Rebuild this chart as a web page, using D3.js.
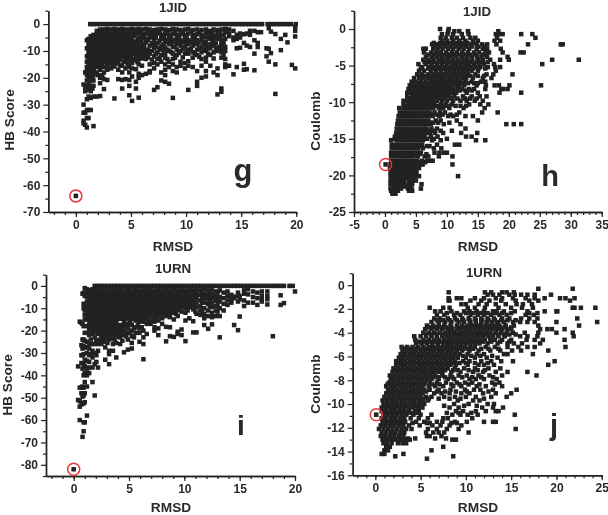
<!DOCTYPE html>
<html><head><meta charset="utf-8">
<script src="https://cdn.jsdelivr.net/npm/d3@7"></script>
<style>html,body{margin:0;background:#fff}svg{display:block}text{font-family:"Liberation Sans",Arial,sans-serif;font-weight:bold;fill:#2a2a2a}</style>
</head><body><svg id="c" width="608" height="515"></svg>
<script>
// Panel g: native structure [rmsd, [hb scores]]
const gNative = [0, -64];
const gZeroX = [1.3,1.6,1.9,2.2,2.5,2.8,3.1,3.4,3.7,4,4.3,4.6,4.9,5.2,5.5,5.8,6.1,6.4,6.7,7,7.3,7.6,7.9,8.2,8.5,8.8,9.1,9.4,9.7,10,10.3,10.6,10.9,11.2,11.5,11.8,12.1,12.4,12.7,13,13.3,13.6,13.9,14.2,14.5,14.8,15.1,15.4,15.7,16,16.3,16.6,16.9,17.4,17.7,18,18.3,18.6,18.9,19.2,19.5,19.95];
const gCols = [
[0.7,[-22.5,-30,-33,-36,-37]],[0.85,[-18,-24,-25,-33,-37.5]],
[1,[-6,-9,-12,-14,-16,-17.5,-19,-21,-23,-24.5,-28,-32,-35,-38.5]],
[1.15,[-5.5,-7,-8.5,-10,-11.5,-13,-15,-17,-18.5,-20,-22,-24,-27,-32,-35]],
[1.35,[-4.5,-6,-7.5,-9,-10.5,-12,-13.5,-15,-16.5,-18,-19.5,-21,-23,-25,-27.5,-32]],
[1.6,[-4,-5.5,-7,-8.5,-10,-11.5,-13,-14.5,-16,-17.5,-19,-21,-23,-27,-38]],
[1.9,[-2.5,-4,-5.5,-7,-8.5,-10,-11.5,-13,-14.5,-16,-18,-27]],
[2.2,[-2,-3.5,-5,-6.5,-8,-9.5,-11,-12.5,-14,-15.5,-17,-20,-22,-26.8]],
[2.55,[-2,-3.5,-5,-6.5,-8,-9.5,-11,-12.5,-14,-16,-18,-20.5,-24.2]],
[2.85,[-1.8,-3.3,-4.8,-6.3,-7.8,-9.3,-10.8,-12.3,-13.8,-15.5,-17,-20.8]],
[3.2,[-2,-3.5,-5,-6.5,-8,-9.5,-11,-12.5,-14,-16.5]],
[3.5,[-1.8,-3.3,-4.8,-6.3,-7.8,-9.3,-10.8,-12.3,-13.8,-15.8,-27.7]],
[3.85,[-2,-3.5,-5,-6.5,-8,-9.5,-11,-12.5,-14,-17,-20.5]],
[4.2,[-1.8,-3.3,-4.8,-6.3,-7.8,-9.3,-10.8,-12.3,-15.5,-18,-20.8,-24]],
[4.5,[-2,-3.5,-5,-6.5,-8,-9.5,-11,-12.5,-14,-16.5,-20.5]],
[4.85,[-2,-3.5,-5.5,-7,-8.5,-10,-11.5,-13.5,-16,-18,-20.8,-23,-26.5]],
[5.1,[-1.8,-3.5,-5,-6.5,-8,-9.5,-11,-14.5,-16.5,-19.5,-28.6]],
[5.45,[-2,-3.5,-6.5,-9,-10.5,-12,-13.5,-16.8,-21.5,-24]],
[5.7,[-1.8,-3.3,-5,-7,-10,-11.5,-13,-15,-18.5,-20,-27.4]],
[6,[-2,-3.8,-5.2,-8,-9.8,-11.2,-12.8,-15.5,-19]],
[6.35,[-1.8,-3.5,-5.5,-6.8,-10,-11.5,-13,-18.5]],
[6.7,[-2,-3.5,-5,-8,-11,-15,-17.5,-18]],
[7.1,[-2.2,-4,-5.8,-7.5,-9,-12,-14.5,-16.5,-24.5]],
[7.4,[-2,-3.5,-7,-10.5,-13,-15,-23.5]],
[7.75,[-1.8,-4,-5.5,-8,-9.5,-11.5,-14,-18,-21]],
[8.1,[-2,-3.5,-6,-9,-11,-12.5,-15,-17,-19,-21.5]],
[8.45,[-2.2,-4,-5.5,-7.5,-10,-14,-16,-22.2]],
[8.8,[-1.8,-3.5,-6,-8.5,-11,-13,-15,-17.5,-27.5]],
[9.15,[-2,-4,-5.5,-7,-9.5,-11.5,-16,-18]],
[9.5,[-2.2,-3.8,-6,-8,-10,-14,-15.5]],
[9.9,[-2,-4,-5.5,-8.5,-11,-14.5,-16.5]],
[10.2,[-1.8,-3.5,-6,-7.5,-9.5,-11,-13.8,-15.5,-24.5]],
[10.6,[-2.2,-4,-5.5,-8,-10.5,-12.5,-16]],
[11,[-2,-3.8,-6,-7.5,-9.5,-11.5,-17.5,-21.5,-23]],
[11.4,[-2.2,-4,-5.5,-8.5,-10.5,-13,-15.5,-20]],
[11.8,[-2,-3.5,-6.5,-8,-10,-12.5,-14,-17.5,-19.5]],
[12.2,[-2.5,-4,-5.5,-7.5,-9,-11.5,-15.5]],
[12.5,[-2,-4.5,-6,-8,-10.5,-12.8,-18]],
[12.85,[-2.2,-3.5,-5.5,-9,-10,-16.5,-19,-26.2]],
[13.2,[-2,-4,-6,-7.5,-9,-10.5,-12.5,-24,-25.2]],
[13.55,[-1.8,-3,-5.5,-8.5,-10,-13,-15,-16]],
[13.9,[-2,-3.5,-4.5,-15.5]],
[14.3,[-2.5,-5,-6,-18.7]],[14.6,[-4,-5.5,-9,-16]],[14.9,[-3.5,-5,-8.8]],
[15.25,[-3.8,-7,-14.8,-17]],[15.5,[-3.5,-8,-16.8]],[15.8,[-2.5,-4,-8.5]],
[16.2,[-2.5,-6,-11,-17.2]],[16.5,[-3,-7,-8.5]],[16.8,[-3]],
[17.3,[-9,-12]],[17.5,[-1.5,-9.2,-14]],[17.7,[-2.8,-10.8]],[18.1,[-3.7,-15,-26]],
[18.6,[-5.5,-9.7]],[19,[-4]],[19.2,[-6.8]],[19.6,[-15.2]],[19.9,[-1,-2.5,-4.6,-16.5]]
];
const gExtra = [
[1.5,[-4.8,-8,-11,-14,-17,-20,-24]],[2,[-3.2,-6.2,-9,-12,-15,-19]],[2.4,[-2.8,-5.8,-8.8,-11.8,-14.8,-19]],[2.7,[-4.2,-7.2,-10.2,-13.2,-16]],
[3,[-2.7,-5.7,-8.7,-11.7,-14.7]],[3.35,[-4.1,-7.1,-10.1,-13.1,-15.2]],[3.7,[-2.6,-5.6,-8.6,-11.6,-14.6]],[4,[-4.2,-7.2,-10.2,-13.2,-15.4]],
[4.35,[-2.7,-5.7,-8.7,-11.7,-14]],[4.7,[-4.3,-7.3,-10.3,-12.8,-15]],[5,[-2.8,-6,-9,-12.2,-13.8]],[5.3,[-4.3,-7.5,-10.4,-13]],
[5.6,[-2.8,-5.8,-8.3,-12.5,-14.2]],[5.9,[-3,-6.5,-9,-10.6,-12]],[6.2,[-4.6,-7.3,-9,-12.2]],[6.55,[-2.8,-6,-9.5,-12.4]],
[6.9,[-3,-4.5,-7,-10,-13.2]],[7.25,[-3,-5,-8.5,-11]],[7.6,[-2.8,-6.2,-9,-12.5]],[8,[-4.8,-7.5,-10.4]],[8.3,[-3,-6.6,-9.5,-13]],
[8.65,[-4.8,-7,-10.4]],[9,[-2.8,-6.5,-8.4,-12.5]],[9.35,[-4.8,-7.4,-10.8]],[9.7,[-3,-6.8,-9.2,-12.4]],[10.05,[-4.6,-7,-10.2]],
[10.45,[-2.8,-6.6,-9.2]],[10.8,[-4.8,-7,-11]],[11.2,[-3,-6.8,-9,-12.2]],[11.6,[-4.8,-7,-9.4]],[12,[-3,-5,-9,-11]],[12.4,[-3.2,-6.6]],[12.7,[-4.6,-7.2,-9.2]],[13.05,[-3,-5,-8.5]],[13.4,[-4.2,-7,-9.2,-11.5]]
];

// Panel h: native structure [coulomb, [rmsd values]]
const hNative = [0.1, -18.5];
const hRows = [
[-22.5,[1.2,1.7]],[-22.1,[1,1.5,2.1,3.9,4.4]],
[-21.8,[0.9,1.4,2,2.6,3.7,4.3,5.8]],[-21.2,[0.9,1.4,2,2.5,3.1,3.8,4.4,5.9]],
[-20.7,[0.9,1.4,1.9,2.5,3.1,3.9,4.5,5]],[-20.1,[0.9,1.4,2,2.6,3.2,3.8,4.3,5,5.5,11.8]],
[-19.6,[0.9,1.5,2.1,2.7,3.3,3.9,4.5,5.1]],[-19,[0.8,1.4,2,2.6,3.2,3.8,4.4,5,5.5]],
[-18.5,[0.9,1.5,2.1,2.7,3.3,3.9,4.5,5.2,5.8,6.1,10.9]],[-18,[1,1.6,2.2,2.8,3.4,4,4.6,5.2,6,6.8,7.3,7.7]],
[-17.4,[1,1.6,2.2,2.8,3.4,4,4.6,5.3,6.4,7,8.7,10.9]],[-16.9,[1,1.6,2.2,2.8,3.4,4,4.6,5.2,5.8,8,8.8,9.5,10]],
[-16.3,[1.1,1.7,2.3,2.9,3.5,4.1,4.7,5.3,6.1,7.9,9.1]],[-15.8,[1.1,1.8,2.4,3,3.6,4.2,4.8,5.4,6,8.4,11.3,12]],
[-15.2,[1,1.9,2.5,3.1,3.7,4.3,4.9,5.5,6.1,7.6,9,14.7,16.2]],[-14.7,[1.6,2.2,2.8,3.4,4,4.6,5.2,5.8,6.4,7.4,8.5,13.1,14]],
[-14.2,[1.8,2.4,3,3.6,4.2,4.8,5.4,6,6.6,7.3,8.1,9.4,12.3,14.9]],[-13.6,[1.9,2.5,3.1,3.7,4.3,4.9,5.5,6.1,6.7,7.5,8.4,13]],
[-13,[2,2.6,3.2,3.8,4.4,5,5.6,6.2,6.8,7.4,9.5,12.2,19.6,20.8,22]],[-12.5,[2.1,2.7,3.3,3.9,4.5,5.1,5.7,6.3,7,8.2,9,11.6,15]],
[-11.9,[2.2,2.8,3.4,4,4.6,5.2,5.8,6.4,7,7.7,8.8,10.2,11,13,14.2]],[-11.4,[2.4,3,3.6,4.2,4.8,5.4,6,6.6,7.2,8,8.9,9.7,12,15.7,18.2]],
[-10.8,[2.3,3,3.6,4.2,4.8,5.4,6,6.6,7.2,7.8,8.7,9.4,10.4,12.7,16.1]],[-10.3,[3,3.8,4.4,5,5.6,6.2,6.8,7.4,8,9,9.8,10.8,13.6,15.4,16.7]],
[-9.8,[3,3.6,4.2,4.8,5.4,6,6.6,7.2,7.8,8.4,9.2,10,11,12.2,13.2,14.5,15.8]],[-9.2,[3.6,4.4,5,5.6,6.2,6.8,7.4,8,8.6,9.2,9.8,10.4,11.2,12.6,14,15.3,16.4]],
[-8.7,[3.6,4.2,4.8,5.4,6,6.6,7.2,7.8,8.4,9,9.6,10.2,10.8,11.5,13.2,15,18.5,22]],[-8.2,[3.8,4.4,5,5.6,6.2,6.8,7.4,8,8.6,9.2,9.8,10.4,11,11.8,12.4,13.6,14.4,16.2,18.8,19.1,19.8]],
[-7.7,[4,4.7,5.3,5.9,6.5,7.1,7.7,8.3,8.9,9.5,10.1,10.7,11.4,12,12.8,14.8,16.3,17.7,18.4,20.1,25.2]],[-7.2,[4.3,5,5.8,6.6,7.4,8,8.6,9.2,9.8,10.4,11,11.6,12.2,13,14,15.5,16.2]],
[-6.7,[4.7,5.5,6.2,6.9,7.6,8.3,9,9.6,10.3,11,11.7,12.4,13.1,14.2,15.8,17.2]],[-6.2,[5.2,6,7,7.8,8.5,9.2,9.9,10.6,11.3,12,12.7,13.4,14.6,16.4,17.5,20.6]],
[-5.7,[5.5,6.3,7.4,8.2,9,9.8,10.5,11.2,11.9,12.6,13.3,14,15,17.9]],[-5.2,[6,7.2,8,8.8,9.6,10.3,11,11.7,12.4,13.1,13.8,14.6,15.4,16.6,17.8,18.6]],
[-4.8,[5.4,6.6,7.5,8.4,9.2,10,10.8,11.5,12.2,12.9,13.6,14.4,15.2,16,17.6,25.4]],[-4.2,[6.2,7,7.8,8.7,9.4,10.2,11,11.8,12.6,13.3,14.1,15,15.8,17,18.6,20,27,31.3]],
[-3.8,[6.6,7.6,8.4,9.2,10,10.7,11.5,12.4,13.2,14,14.9,15.6,16.5,19.8]],[-3.2,[6.3,7.5,8.3,9,9.9,10.8,11.6,12.5,13.4,14.4,15.2,16.2,16.8,19,21.9,22.4]],
[-2.7,[6.2,6.6,7.8,8.5,9.3,10.2,11,11.9,12.7,13.6,14.8,15.8,16.5,18.7]],[-2.1,[7.6,8.4,9.4,10.3,11.1,11.8,12.8,13.8,14.8,15.7,16.5,18,28.4,28.7,23.1]],
[-1.6,[9.2,10,11,12,13,14.2,15,17.7,18.6]],[-1.2,[9,9.8,10.8,11.6,12.6,13.8,14.6,18.1,24.3]],
[-0.7,[9.2,10.1,11,12.4,13.5,17.9,18.4,19,23.8,22]],[-0.3,[10.2,11.2,12,13.4,18.3]],[0,[8.9,10.3]]
];
const hExtra = [
[-21.5,[1.7,2.3,2.9,3.4,4]],[-20.4,[1.2,1.7,2.3,2.9,3.5,4.1,4.7]],[-19.3,[1.2,1.8,2.4,3,3.6,4.2,4.8]],[-18.2,[1.3,1.9,2.5,3.1,3.7,4.3,4.9,5.5,6.5]],
[-17.1,[1.3,1.9,2.5,3.1,3.7,4.3,4.9,5.6,6.7]],[-16,[1.4,2,2.6,3.2,3.8,4.4,5,5.7,6.8,7.2]],[-15,[1.6,2.2,2.8,3.4,4,4.6,5.2,5.8,6.8,7.9,10]],
[-13.9,[2.2,2.8,3.4,4,4.6,5.2,5.8,6.4,7.1,7.9,9,10.8]],[-12.8,[2.4,3,3.6,4.2,4.8,5.4,6,6.6,7.3,7.8,8.6,10.4]],[-11.7,[2.6,3.2,3.8,4.4,5,5.6,6.2,6.8,7.4,8.4,9.3,10.6,11.6]],
[-10.5,[3.3,4.1,4.7,5.3,5.9,6.5,7.1,7.7,8.4,9.5,10.2,11.4,12.2,13.1]],[-9.5,[3.9,4.6,5.2,5.8,6.4,7,7.6,8.2,8.9,9.5,10.7,11.7,12.9,13.7,14.8]],[-8.4,[4.1,4.7,5.3,5.9,6.5,7.1,7.7,8.3,8.9,9.5,10.1,10.7,11.3,12.1,13,14]],
[-7.4,[4.5,5.2,6,6.8,7.6,8.4,9,9.6,10.2,10.8,11.4,12,12.6,13.4,14.4,15]],[-6.4,[5.6,6.5,7.3,8,8.7,9.4,10.1,10.8,11.5,12.2,12.9,13.8,15,16]],[-5.4,[5.8,7,7.7,8.5,9.3,10,10.7,11.4,12.1,12.8,13.5,14.2,15.1,16.2]],
[-4.5,[6.4,7.2,8,8.9,9.7,10.5,11.2,12,12.7,13.4,14.1,14.9,15.6,16.6]],[-3.5,[7,7.9,8.8,9.6,10.4,11.2,12,12.8,13.7,14.6,15.8,16.4]],[-2.4,[8,8.9,9.7,10.6,11.5,12.3,13.1,14,15.1,16.1]],[-1.9,[7.9,8.9,9.9,10.7,11.4,12.4,13.3,14.3]]
];

// Panel i: native structure [rmsd, [hb scores]]
const iNative = [0, -82];
const iZeroX = [1.9,2.2,2.5,2.8,3.1,3.4,3.7,4,4.3,4.6,4.9,5.2,5.5,5.8,6.1,6.4,6.7,7,7.3,7.6,7.9,8.2,8.5,8.8,9.1,9.4,9.7,10,10.3,10.6,10.9,11.2,11.5,11.8,12.1,12.4,12.7,13,13.3,13.6,13.9,14.2,14.5,14.8,15.1,15.4,15.7,16,16.3,16.6,16.9,17.2,17.5,17.8,18.1,18.4,18.7,19,19.5,19.8];
const iCols = [
[0.4,[-36,-51]],[0.55,[-16,-45.5,-51.5,-54,-60]],[0.7,[-16.5,-26.5,-31,-34.5,-45.5,-48,-53]],
[0.8,[-3.5,-17,-24,-28,-31,-37,-45,-49.5,-52.5,-67.5]],[0.9,[-3.2,-8,-10,-18,-24,-27,-30.5,-35,-40,-45.5,-49,-52.5,-65,-61]],
[1,[-1,-3,-4.5,-9,-11,-13,-15,-21,-24.5,-27.5,-33,-36,-39,-43,-48,-52,-61]],[1.2,[-1.5,-3.5,-5,-7,-9,-11,-13,-15,-18,-21,-25,-27.5,-30,-33.5,-37,-40,-45,-58]],
[1.4,[-2,-3.5,-5.5,-7.5,-9.5,-11.5,-13.5,-15.5,-17.5,-19.5,-22,-26,-28,-31,-34,-36.5,-39]],[1.7,[-1.5,-3.5,-5.5,-7.5,-9.5,-11.5,-13.5,-15.5,-17.5,-19.5,-21.5,-26,-29,-32,-36.5,-43]],
[1.9,[-2,-4,-6,-8,-10,-12,-14,-16,-18,-20,-23,-26,-30,-35,-49]],[2.2,[-1.5,-3.5,-5.5,-7.5,-9.5,-11.5,-13.5,-15.5,-17.5,-19.5,-21.5,-26,-29,-36.5]],
[2.5,[-2,-4,-6,-8,-10,-12,-14,-16,-18,-20,-22,-24,-26]],[2.85,[-1.5,-3.5,-5.5,-7.5,-9.5,-11.5,-13.5,-15.5,-17.5,-19.5,-21.5,-23.5,-27.5,-33]],
[3.2,[-2,-4,-6,-8,-10,-12,-14,-16,-18,-20,-22,-24,-29,-30.5,-35]],[3.55,[-1.5,-3.5,-5.5,-7.5,-9.5,-11.5,-13.5,-15.5,-17.5,-19.5,-21.5,-23.5,-26,-29]],
[3.85,[-2,-4,-6,-8,-10,-12,-14,-16,-18,-20,-22,-25.5,-32]],[4.2,[-1.5,-3.5,-5.5,-7.5,-9.5,-11.5,-13.5,-17.5,-19.5,-21.5,-23,-26]],
[4.55,[-2,-4,-6,-8,-10,-12,-14,-16.5,-18,-20,-22,-29.7]],[4.9,[-1.5,-3.5,-5.5,-7.5,-9.5,-11.5,-13.5,-17,-19,-21,-24,-28.5]],
[5.25,[-2,-4,-6,-8,-10,-12,-14,-17.5,-20,-22.5,-25.5,-28]],[5.6,[-1.5,-3.5,-5.5,-7.5,-9.5,-11.5,-13.5,-15.5,-18.5,-21]],
[5.95,[-2,-4,-6,-8,-10,-12,-14,-16,-19,-21,-25]],[6.3,[-1.5,-3.5,-5.5,-7.5,-9.5,-11.5,-13.5,-16,-20,-23,-26,-32.8]],
[6.6,[-2,-4,-6,-8,-10,-12,-14,-17,-21.5]],[6.95,[-1.5,-3.5,-5.5,-7.5,-9.5,-11.5,-13.5,-15.5,-17]],
[7.3,[-2,-4,-6,-8,-10,-12,-14,-16,-18.5,-20]],[7.65,[-1.5,-3.5,-5.5,-7.5,-9.5,-11.5,-13.5,-15.5,-19,-22]],
[8,[-2,-4,-6,-8,-10,-12,-14.5,-17]],[8.35,[-1.5,-3.5,-5.5,-7.5,-9.5,-11.5,-13.5,-18.3,-24.8]],
[8.7,[-2,-4,-6,-8,-10,-12,-14,-18.5,-22.5]],[9.05,[-1.5,-3.5,-5.5,-7.5,-9.5,-12,-15,-22.8]],
[9.4,[-2,-4,-6,-8,-10,-13.5,-20.5,-21.5]],[9.75,[-1.5,-3.5,-5.5,-7.5,-9.5,-11.5,-19.5,-22]],
[10.1,[-2,-4,-6,-8,-10,-12,-15.5,-24.7]],[10.45,[-1.5,-3.5,-5.5,-7.5,-9.5,-14.5]],
[10.8,[-2,-4,-6,-8.5,-10.5,-15.8,-20.8]],[11.1,[-1.5,-3.5,-5.5,-7.5,-9.5,-12.5,-20.8]],
[11.45,[-2,-4,-6.5,-9,-11,-13]],[11.8,[-1.5,-3.5,-5.5,-7.5,-10,-12.5,-14.5,-17.5]],
[12.15,[-2,-4,-6,-8,-11,-13.5,-19.2]],[12.5,[-1.5,-3.5,-5.5,-7.5,-9.5,-12,-14,-17.2]],
[12.85,[-2.5,-4.5,-6.5,-9,-11,-13.5]],[13.2,[-2,-5,-7,-10,-13.5,-23]],
[13.55,[-3,-5.5,-8,-11]],[13.9,[-2.5,-4.5,-6.5,-8.5]],[14.25,[-4,-6,-7.5]],[14.5,[-4.8,-17.5,-5.5]],
[14.85,[-3,-4.5,-19.8,-7]],[15,[-4.5,-13.7,-6]],[15.4,[-2,-3.5,-6.5,-9]],[15.75,[-1.5,-3.8,-7.5]],
[16.2,[-2.5,-5,-7.5]],[16.6,[-3,-5.5,-8.5]],[17,[-2.5,-4.5,-6,-7]],[17.5,[-2.5,-4.5,-6,-8.3]],
[18,[-22.5]],[18.7,[-8.5,-4.2]],[19,[-7.7]],[20,[-2.5]]
];
const iExtra = [
[1.55,[-2.7,-4.5,-6.5,-8.5,-10.5,-12.5,-14.5,-16.5,-18.5,-20.5,-24,-30.5]],[2.05,[-2.8,-4.8,-6.8,-8.8,-10.8,-12.8,-14.8,-16.8,-18.8,-20.8,-24.5,-31,-34]],
[2.35,[-2.7,-4.7,-6.7,-8.7,-10.7,-12.7,-14.7,-16.7,-18.7,-20.7,-24]],[2.7,[-2.8,-4.8,-6.8,-8.8,-10.8,-12.8,-14.8,-16.8,-18.8,-20.8,-22.8,-25]],
[3.05,[-2.7,-4.7,-6.7,-8.7,-10.7,-12.7,-14.7,-16.7,-18.7,-20.7,-22.7,-25.5]],[3.4,[-2.8,-4.8,-6.8,-8.8,-10.8,-12.8,-14.8,-16.8,-18.8,-20.8,-22.8]],
[3.7,[-2.7,-4.7,-6.7,-8.7,-10.7,-12.7,-14.7,-16.7,-18.7,-20.7,-24]],[4.05,[-2.8,-4.8,-6.8,-8.8,-10.8,-12.8,-14.8,-18.8,-20.8,-22.8]],
[4.4,[-2.7,-4.7,-6.7,-8.7,-10.7,-12.7,-14.7,-18.7,-20.7,-24.5]],[4.75,[-2.8,-4.8,-6.8,-8.8,-10.8,-12.8,-14.8,-18,-22.5]],
[5.1,[-2.7,-4.7,-6.7,-8.7,-10.7,-12.7,-14.7,-16.5,-21]],[5.45,[-2.8,-4.8,-6.8,-8.8,-10.8,-12.8,-14.8,-19,-23]],
[5.8,[-2.7,-4.7,-6.7,-8.7,-10.7,-12.7,-14.7,-17.5]],[6.15,[-2.8,-4.8,-6.8,-8.8,-10.8,-12.8,-15,-18.5]],
[6.45,[-2.7,-4.7,-6.7,-8.7,-10.7,-12.7,-15]],[6.8,[-2.8,-4.8,-6.8,-8.8,-10.8,-12.8,-15.8]],
[7.15,[-2.7,-4.7,-6.7,-8.7,-10.7,-12.7,-15.3]],[7.5,[-2.8,-4.8,-6.8,-8.8,-10.8,-12.8,-14.8]],
[7.85,[-2.7,-4.7,-6.7,-8.7,-10.7,-12.7]],[8.2,[-2.8,-4.8,-6.8,-8.8,-10.8,-13]],[8.55,[-2.7,-4.7,-6.7,-8.7,-10.7,-13]],[8.9,[-2.8,-4.8,-6.8,-8.8,-10.8]],
[9.25,[-2.7,-4.7,-6.7,-8.7,-10.7,-12.5]],[9.6,[-2.8,-4.8,-6.8,-8.8,-10.8]],[9.95,[-2.7,-4.7,-6.7,-9]],[10.3,[-2.8,-4.8,-6.8,-8.8,-11]],[10.65,[-2.7,-4.7,-7,-9.2]],[11,[-2.8,-4.8,-6.8,-11.5]],[11.6,[-2.8,-5,-7.2,-11]],[12.3,[-2.8,-4.8,-7,-9.2]],[13,[-3,-5.5,-8,-11.5]]
];

// Panel j: native structure [coulomb, [rmsd values]]
const jNative = [0.1, -10.9];
const jRows = [
[-14.6,[5.7]],[-14.4,[2.2,8.6]],[-14.2,[0.7,1,3.1]],[-13.9,[1,1.4,6.2]],[-13.6,[1.2,1.6,7.5]],
[-13.3,[0.9,1.3,1.8,2.5,3,3.4]],[-13,[0.8,1.3,1.8,2.3,2.8,3.3,3.8,8.5,8.9]],[-12.7,[0.6,1.1,1.6,2.1,2.6,3.1,5.7,6,7.3]],
[-12.4,[0.7,1.2,1.7,2.2,2.7,3.2,5.6,6.4,7,7.6,10.3]],[-12.1,[0.4,0.9,1.4,1.9,2.4,2.9,3.4,4,5.8,6.8,7.9,9.2,15.5]],
[-11.8,[0.6,1.1,1.6,2.1,2.6,3.1,3.7,4.9,6.3,7.2,8.2,9.5]],[-11.5,[0.8,1.3,1.8,2.3,2.8,3.3,4.5,5.4,6.8,7.4,8.8,10.1,12,13,13.3]],
[-11.2,[0.7,1.2,1.7,2.2,2.7,3.2,3.9,4.8,5.8,7.5,8,10.7]],[-10.9,[0.9,1.4,1.9,2.4,2.9,3.4,4.2,5,6.2,8.5,9.4,10.2,11.3,15.4]],
[-10.6,[0.7,1.2,1.7,2.2,2.7,3.2,3.7,4.4,4.8,8.9,9.7,11.1,12.2,13.3,13.6]],[-10.3,[0.7,1.2,1.7,2.2,2.7,3.2,3.7,4.2,4.7,5.2,8.2,9.2,11.8,13,14.1]],
[-10,[0.9,1.4,1.9,2.4,2.9,3.4,3.9,4.4,4.9,5.4,8.7,10.3,12.4,13.1]],[-9.7,[0.8,1.3,1.8,2.3,2.8,3.3,3.8,4.3,4.8,5.3,5.8,9.1,10.8,11.5]],
[-9.4,[1,1.5,2,2.5,3,3.5,4,4.5,5,5.6,6.2,7.6,8.8,10,11.1,12.8,14.5]],[-9.1,[1.2,1.7,2.2,2.7,3.2,3.7,4.2,4.7,5.2,6.5,7.3,8.2,9.5,10.4,11.9,13.3,15]],
[-8.8,[1.4,1.9,2.4,2.9,3.4,3.9,4.4,4.9,5.4,6,7,8.3,9.9,10.9,11.6,13,15.6]],[-8.5,[1.2,1.7,2.2,2.7,3.2,3.7,4.2,4.7,5.2,5.9,6.6,7.5,8.6,9.5,11.2,12.2,14]],
[-8.2,[1.5,2,2.5,3,3.5,4,4.5,5,5.5,6,6.8,7.8,9,9.9,10.7,12.9,13.7]],[-7.9,[1.7,2.2,2.7,3.2,3.7,4.2,4.7,5.2,5.7,6.2,7,8,8.7,10.4,11.1,12,13.4]],
[-7.6,[1.6,2.1,2.6,3.1,3.6,4.1,4.6,5.1,5.6,6.1,6.6,7.4,8.3,9.2,10.1,11.4,12.6,14,17.8]],[-7.3,[1.9,2.4,2.9,3.4,3.9,4.4,4.9,5.4,5.9,6.4,6.9,7.4,8.4,9.4,10.8,11.9,13.3,14.6,16.8]],
[-7,[2,2.5,3,3.5,4,4.5,5,5.5,6,6.5,7,7.5,8,8.8,9.8,11,12.5,13.8]],[-6.7,[2.3,2.8,3.3,3.8,4.3,4.8,5.3,5.8,6.3,6.8,7.3,7.8,8.3,8.9,10.2,11.4,12,13.1,19.1]],
[-6.4,[2.3,2.8,3.3,3.8,4.3,4.8,5.3,5.8,6.3,6.8,7.3,7.8,8.3,8.8,9.7,10.4,11.7,12.8,13.9,15.2,19.8]],[-6.1,[2.6,3.1,3.6,4.1,4.6,5.1,5.6,6.1,6.6,7.1,7.6,8.1,8.6,9.1,10,11,12.3,13.5]],
[-5.8,[2.8,3.3,3.8,4.3,4.8,5.3,5.8,6.3,6.8,7.3,7.8,8.3,8.8,9.3,10.2,11.2,12,14.2,14.6,17.4]],[-5.5,[3,3.5,4,4.5,5,5.5,6,6.5,7,7.5,8,8.5,9,9.6,10.4,11.4,12.7,13.8,15.1,16.1,19.1]],
[-5.2,[2.9,3.5,4.1,4.7,5.3,5.9,6.4,6.9,7.4,7.9,8.4,8.9,9.4,9.9,10.5,11,12.2,13.2,14.6,15.8,16.8,17.6,21]],[-4.9,[4.5,5.1,5.7,6.3,6.9,7.5,8,8.5,9,9.5,10,10.5,11,11.5,12.4,13.5,14.6,15.3,16.2,18.2]],
[-4.6,[4.4,5.3,5.9,6.5,7,7.6,8.1,8.6,9.1,9.6,10.1,10.6,11.1,11.6,12.1,12.7,13.2,14,15,16.7,17.6,18.5,20.9]],[-4.3,[4.3,5,5.6,6.2,6.8,7.4,7.9,8.4,8.9,9.4,9.9,10.4,10.9,11.4,11.9,12.5,13,13.6,14.3,16,16.8,17.9,21.9]],
[-4,[5.3,5.9,6.5,7.1,7.7,8.2,8.7,9.2,9.7,10.2,10.7,11.2,11.7,12.2,12.7,13.3,13.9,14.5,15.2,16.5,18,20,21.8]],[-3.7,[5.5,6.2,6.8,7.4,8,8.5,9,9.5,10,10.5,11,11.5,12,12.5,13,13.5,14,14.6,15,18.2,19,19.5,20.9]],
[-3.4,[5.7,6.4,7,7.6,8.3,9,9.6,10.2,10.7,11.2,11.7,12.2,12.7,13.2,13.7,14.4,15.3,18,22.5]],[-3.1,[6.2,7,7.7,8.4,9.2,9.8,10.5,11.1,11.7,12.3,12.9,13.5,14.2,15.2,16,16.8,17.6,20,24.5]],
[-2.8,[6.5,7.1,8,8.8,9.6,10.3,11,11.7,12.4,13.1,14,14.8,16.1,17,17.9,22.3]],[-2.5,[6.8,7.6,8.7,9.4,10.5,11.3,12,12.8,13.7,14.5,16.6,17.5]],
[-2.2,[6.6,7.2,8.4,9.8,10.4,11.2,12,13,13.4,14.2,15.4,16.8,18.7,20,20.1]],[-1.9,[6,7.5,8.2,10.2,11,12.1,13.6,15,16.2,17.4,21.8,22,22.7,24.3]],
[-1.6,[9.5,10,11.4,12.3,13.3,14.4,15.6,16.3,17.3]],[-1.3,[8.1,8.2,10.5,11.7,12.6,13.9,15.5,17,18,21.5]],
[-1.1,[8.1,9,9.5,11,12,13.3,14,15.2,16.6,17.6,18.7,20.4,21,22]],[-0.8,[12.4,13,13.7,14.8,15.4,16.1,16.8,17.6,19.4]],
[-0.6,[8.1,12.1,12.8,14,14.5,15.3]],[-0.3,[18,21.8]]
];
const jExtra = [
[-12.9,[1,1.5,2,2.6,3.6,4.4,6.6,7.8]],[-11.6,[1,1.5,2,2.5,3,4.1,5.7,6,8.4,9]],[-10.75,[1,1.5,2,2.5,3,3.5,4,4.6,7.9,9.2,10.6]],[-10.15,[1.05,1.55,2.05,2.55,3.05,3.55,4.05,4.55,5.05,7.6,9.8,11.2]],
[-9.55,[1.15,1.65,2.15,2.65,3.15,3.65,4.15,4.65,5.15,5.9,7,8.2,9.4,12]],[-8.95,[1.55,2.05,2.55,3.05,3.55,4.05,4.55,5.05,5.6,6.8,7.7,8.9,10.1,12.5]],
[-8.35,[1.35,1.85,2.35,2.85,3.35,3.85,4.35,4.85,5.35,6.3,7.1,8.4,9.3,10.3,11.5,13.2]],[-7.75,[1.9,2.4,2.9,3.4,3.9,4.4,4.9,5.4,5.9,6.4,6.9,7.7,8.5,9.6,10.7,11.7,13]],
[-7.15,[2.2,2.7,3.2,3.7,4.2,4.7,5.2,5.7,6.2,6.7,7.2,7.7,8.6,9.1,10.3,11.3,12.1]],[-6.55,[2.55,3.05,3.55,4.05,4.55,5.05,5.55,6.05,6.55,7.05,7.55,8.05,8.55,9.3,10,11,12.4]],
[-5.95,[2.9,3.4,3.9,4.4,4.9,5.4,5.9,6.4,6.9,7.4,7.9,8.4,8.9,9.7,10.6,11.6,12.9]],[-5.35,[3.2,3.8,4.4,5,5.6,6.2,6.7,7.2,7.7,8.2,8.7,9.2,9.7,10.2,10.8,11.7,12.5,13.6]],
[-4.75,[4.8,5.5,6.1,6.7,7.3,7.8,8.3,8.8,9.3,9.8,10.3,10.8,11.3,11.9,12.8,13.8,14.8]],[-4.15,[5.6,6.2,6.8,7.4,8,8.5,9,9.5,10,10.5,11,11.5,12,12.5,13,13.6,14.2,14.8,15.5]],
[-3.55,[5.9,6.6,7.2,7.8,8.4,9.2,9.8,10.3,10.8,11.3,11.8,12.3,12.8,13.3,13.8,14.3,15]],[-2.95,[6.8,7.5,8.2,9,9.7,10.4,11.1,11.8,12.5,13.2,13.9,14.6,15.5]],[-2.35,[7.9,9,10,10.8,11.6,12.4,13.2,14,15,17,17.9]]
];

// Tick labels
const ticksG = { x:[0,5,10,15,20], y:[0,-10,-20,-30,-40,-50,-60,-70] };
const ticksH = { x:[-5,0,5,10,15,20,25,30,35], y:[0,-5,-10,-15,-20,-25] };
const ticksI = { x:[0,5,10,15,20], y:[0,-10,-20,-30,-40,-50,-60,-70,-80] };
const ticksJ = { x:[0,5,10,15,20,25], y:[0,-2,-4,-6,-8,-10,-12,-14,-16] };
const minorXG = d3.range(-2,21);
const minorXH = d3.range(-5,36);
const minorXJ = d3.range(-2,26);

const fromCols = cols => cols.flatMap(([x,ys])=>ys.map(y=>[x,y]));
const fromRows = rows => rows.flatMap(([y,xs])=>xs.map(x=>[x,y]));

const panels = [
 {title:"1JID", letter:"g", ylabel:"HB Score", pts:[...gZeroX.map(x=>[x,0]),...fromCols(gCols),...fromCols(gExtra),gNative], nat:gNative, xd:[-2.5,20], yd:[-70,5],
  xr:[48.3,296.3], yr:[212,10.7], t:ticksG, minX:minorXG, minY:d3.range(-65,5,10).concat([5]), titleX:173, titleY:12, labY:251, labX:173, ylabX:14, ylabY:120, letX:243,letY:181,letS:31},
 {title:"1JID", letter:"h", ylabel:"Coulomb", pts:[...fromRows(hRows),...fromRows(hExtra),hNative], nat:hNative, xd:[-5,35], yd:[-25,2.5],
  xr:[354,601.7], yr:[212,10.7], t:ticksH, minX:minorXH, minY:d3.range(-22.5,2.5,5).concat([2.5]), titleX:477, titleY:15.5, labY:251, labX:478, ylabX:320, ylabY:121, letX:550,letY:186,letS:29},
 {title:"1URN", letter:"i", ylabel:"HB Score", pts:[...iZeroX.map(x=>[x,0]),...fromCols(iCols),...fromCols(iExtra),iNative], nat:iNative, xd:[-2.5,20], yd:[-85,5],
  xr:[46,295], yr:[476,274.7], t:ticksI, minX:minorXG, minY:d3.range(-75,5,10).concat([5,-85]), titleX:173, titleY:273, labY:512, labX:171, ylabX:12, ylabY:385, letX:241,letY:435,letS:28},
 {title:"1URN", letter:"j", ylabel:"Coulomb", pts:[...fromRows(jRows),...fromRows(jExtra),jNative], nat:jNative, xd:[-2.5,25], yd:[-16,1],
  xr:[352.7,601.7], yr:[475.3,273.3], t:ticksJ, minX:minorXJ, minY:d3.range(-15,2,2), titleX:484, titleY:277, labY:512, labX:478, ylabX:320, ylabY:384, letX:554,letY:435,letS:29}
];

const svg = d3.select("#c");
const f = svg.append("defs").append("filter").attr("id","soft").attr("filterUnits","userSpaceOnUse")
  .attr("x",0).attr("y",0).attr("width",608).attr("height",515).attr("color-interpolation-filters","sRGB");
f.append("feGaussianBlur").attr("stdDeviation",0.45);
const root = svg.append("g").attr("filter","url(#soft)");
root.append("rect").attr("width",608).attr("height",515).attr("fill","#fff");

panels.forEach(p=>{
  const x=d3.scaleLinear().domain(p.xd).range(p.xr), y=d3.scaleLinear().domain(p.yd).range(p.yr);
  const g=root.append("g");
  const bx=p.yr[0], lx=p.xr[0];
  g.append("g").selectAll("rect").data(p.pts).join("rect")
    .attr("x",d=>x(d[0])-2.25).attr("y",d=>y(d[1])-2.25).attr("width",4.5).attr("height",4.5).attr("fill","#222");
  const ax=(sel,axis)=>{sel.call(axis);sel.select(".domain").attr("stroke","#222").attr("stroke-width",1.4);sel.selectAll(".tick line").attr("stroke","#222").attr("stroke-width",1.2);};
  g.append("g").attr("transform",`translate(0,${bx})`).call(s=>ax(s,d3.axisBottom(x).tickValues(p.minX).tickSize(3).tickSizeOuter(0).tickFormat("")));
  g.append("g").attr("transform",`translate(${lx},0)`).call(s=>ax(s,d3.axisLeft(y).tickValues(p.minY).tickSize(3).tickSizeOuter(0).tickFormat("")));
  const bot=g.append("g").attr("transform",`translate(0,${bx})`);
  ax(bot,d3.axisBottom(x).tickValues(p.t.x).tickSize(5).tickSizeOuter(0).tickFormat(String));
  bot.selectAll("text").attr("font-size",12);
  const lef=g.append("g").attr("transform",`translate(${lx},0)`);
  ax(lef,d3.axisLeft(y).tickValues(p.t.y).tickSize(5).tickSizeOuter(0).tickFormat(String));
  lef.selectAll("text").attr("font-size",12);
  g.append("circle").attr("cx",x(p.nat[0])).attr("cy",y(p.nat[1])).attr("r",6).attr("fill","none").attr("stroke","#e8373a").attr("stroke-width",1.5);
  g.append("text").attr("x",p.titleX).attr("y",p.titleY).attr("text-anchor","middle").attr("font-size",13.3).text(p.title);
  g.append("text").attr("x",p.labX).attr("y",p.labY).attr("text-anchor","middle").attr("font-size",13.7).text("RMSD");
  g.append("text").attr("transform",`translate(${p.ylabX},${p.ylabY}) rotate(-90)`).attr("text-anchor","middle").attr("font-size",13.7).text(p.ylabel);
  g.append("text").attr("x",p.letX).attr("y",p.letY).attr("text-anchor","middle").attr("font-size",p.letS).text(p.letter);
});
</script></body></html>
